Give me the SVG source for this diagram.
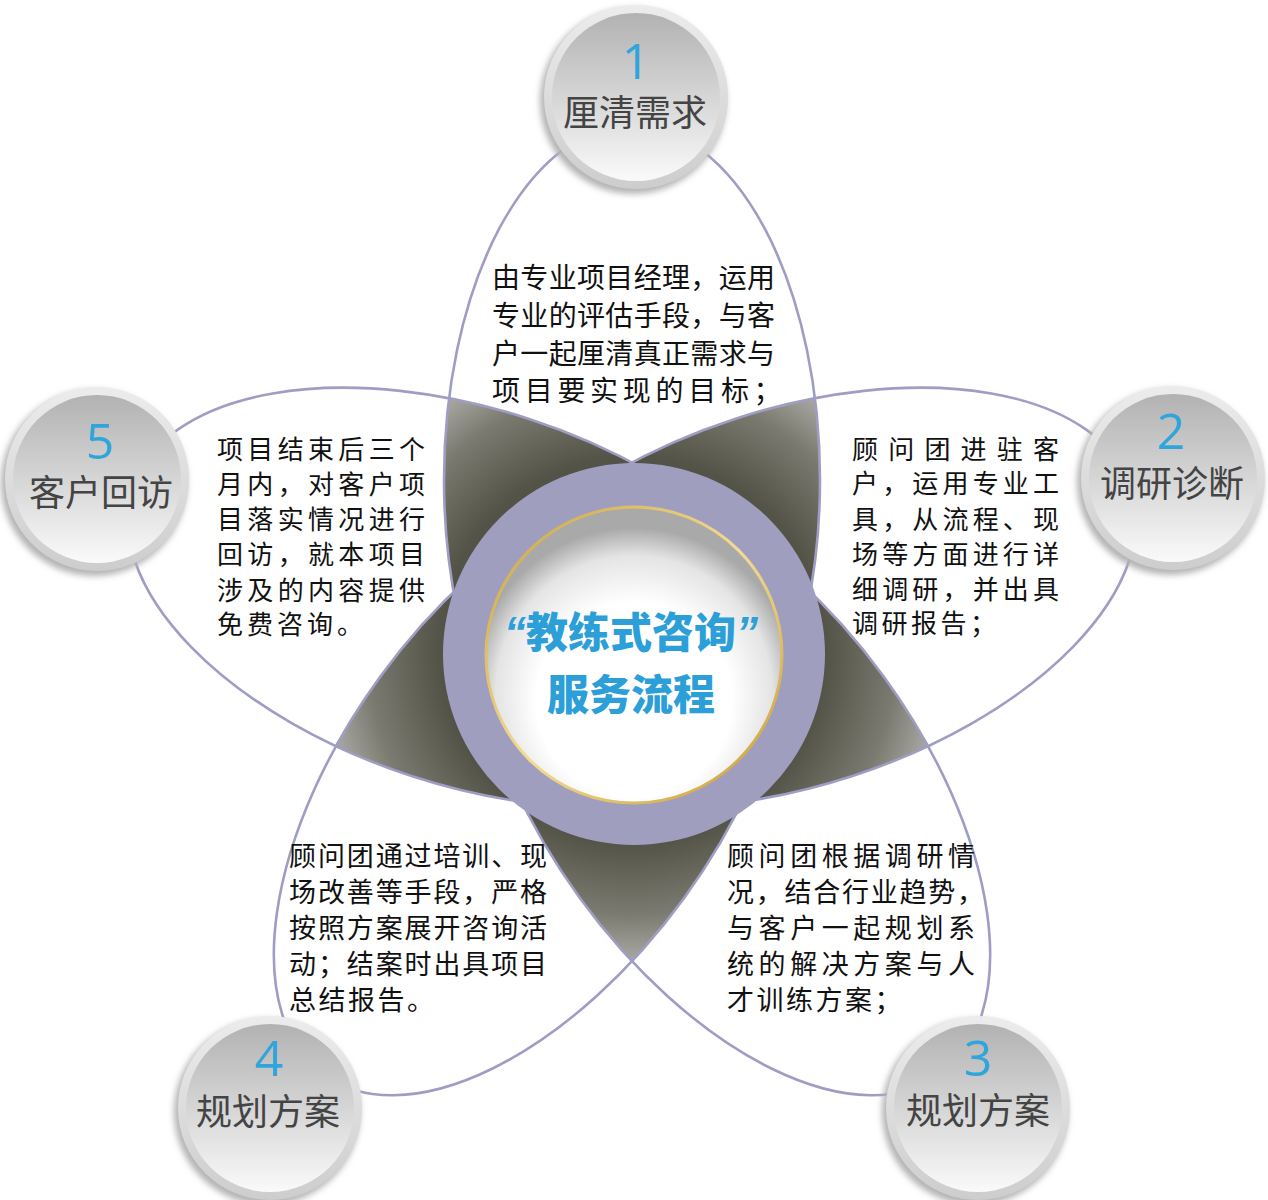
<svg xmlns="http://www.w3.org/2000/svg" width="1268" height="1200" viewBox="0 0 1268 1200">
<defs>
  <style>
    .petal { fill: none; stroke: #9f9dc4; stroke-width: 2.6; }
    .num { font-family: "Open Sans", "Noto Sans", "Liberation Sans", sans-serif; font-weight: 400; font-size: 50px; fill: #2fa5dc; text-anchor: middle; }
    .lab { font-family: "Liberation Sans", "Noto Sans CJK SC", sans-serif; font-weight: 400; font-size: 36px; fill: #444444; text-anchor: middle; }
    .body { font-family: "Noto Sans CJK SC", sans-serif; font-size: 26px; fill: #111111; }
    .body28 { font-size: 28px; }
    .body27 { font-size: 27px; }
    .title { font-family: "Noto Sans CJK SC", sans-serif; font-weight: 900; font-size: 42px; fill: #2c9fd9; text-anchor: middle; }
    .q { font-family: "Liberation Sans", sans-serif; font-weight: 700; font-style: italic; font-size: 44px; }
  </style>
  <radialGradient id="darkGrad" gradientUnits="userSpaceOnUse" cx="632" cy="650" r="322">
    <stop offset="0" stop-color="#3c3c30"/>
    <stop offset="0.6" stop-color="#535347"/>
    <stop offset="0.82" stop-color="#7a7a70"/>
    <stop offset="1" stop-color="#b4b4ae"/>
  </radialGradient>
  <linearGradient id="rim" x1="0" y1="0" x2="0" y2="1">
    <stop offset="0" stop-color="#ececec"/>
    <stop offset="1" stop-color="#cdcdcd"/>
  </linearGradient>
  <linearGradient id="disc" x1="0" y1="0" x2="0" y2="1">
    <stop offset="0" stop-color="#b2b2b2"/>
    <stop offset="0.55" stop-color="#d9d9d9"/>
    <stop offset="1" stop-color="#fafafa"/>
  </linearGradient>
  <radialGradient id="inner" cx="0.5" cy="0.62" r="0.55" fx="0.5" fy="0.7">
    <stop offset="0" stop-color="#ffffff"/>
    <stop offset="0.6" stop-color="#ffffff"/>
    <stop offset="0.85" stop-color="#e4e4e4"/>
    <stop offset="1" stop-color="#a9a9a9"/>
  </radialGradient>
  <linearGradient id="gold" x1="0" y1="0" x2="1" y2="1">
    <stop offset="0" stop-color="#c9a23c"/>
    <stop offset="0.5" stop-color="#f3dc93"/>
    <stop offset="1" stop-color="#c89a30"/>
  </linearGradient>
  <filter id="blur" x="-20%" y="-20%" width="140%" height="140%">
    <feGaussianBlur stdDeviation="3"/>
  </filter>
  <ellipse id="petal" cx="632" cy="480" rx="188" ry="355"/>
  <clipPath id="p1"><use href="#petal"/></clipPath>
  <clipPath id="p2"><use href="#petal" transform="rotate(72 632 650)"/></clipPath>
  <clipPath id="p3"><use href="#petal" transform="rotate(144 632 650)"/></clipPath>
  <clipPath id="p4"><use href="#petal" transform="rotate(216 632 650)"/></clipPath>
  <clipPath id="p5"><use href="#petal" transform="rotate(288 632 650)"/></clipPath>
</defs>

<rect width="1268" height="1200" fill="#ffffff"/>

<g id="petal-overlaps">
  <g clip-path="url(#p1)"><g clip-path="url(#p2)"><circle cx="632" cy="650" r="330" fill="url(#darkGrad)"/></g></g>
  <g clip-path="url(#p2)"><g clip-path="url(#p3)"><circle cx="632" cy="650" r="330" fill="url(#darkGrad)"/></g></g>
  <g clip-path="url(#p3)"><g clip-path="url(#p4)"><circle cx="632" cy="650" r="330" fill="url(#darkGrad)"/></g></g>
  <g clip-path="url(#p4)"><g clip-path="url(#p5)"><circle cx="632" cy="650" r="330" fill="url(#darkGrad)"/></g></g>
  <g clip-path="url(#p5)"><g clip-path="url(#p1)"><circle cx="632" cy="650" r="330" fill="url(#darkGrad)"/></g></g>
</g>

<g id="connectors">
  <use href="#petal" class="petal"/>
  <use href="#petal" class="petal" transform="rotate(72 632 650)"/>
  <use href="#petal" class="petal" transform="rotate(144 632 650)"/>
  <use href="#petal" class="petal" transform="rotate(216 632 650)"/>
  <use href="#petal" class="petal" transform="rotate(288 632 650)"/>
</g>

<g id="center">
  <circle cx="634" cy="654" r="191" fill="#a09ebf"/>
  <circle cx="634" cy="655" r="148" fill="url(#inner)" stroke="url(#gold)" stroke-width="3"/>
  <text class="title" x="631" y="648"><tspan class="q">“</tspan>教练式咨询<tspan class="q">”</tspan></text>
  <text class="title" x="631" y="710">服务流程</text>
</g>

<g id="node1">
  <circle cx="633" cy="101" r="93" fill="#b4b4b4" filter="url(#blur)"/>
  <circle cx="636" cy="97" r="92" fill="url(#rim)"/>
  <circle cx="636" cy="97" r="84" fill="url(#disc)"/>
  <text class="num" x="636" y="79">1</text>
  <text class="lab" x="635" y="126">厘清需求</text>
</g>

<g id="node2">
  <circle cx="1170" cy="482" r="93" fill="#b4b4b4" filter="url(#blur)"/>
  <circle cx="1173" cy="478" r="92" fill="url(#rim)"/>
  <circle cx="1173" cy="478" r="84" fill="url(#disc)"/>
  <text class="num" x="1171" y="449">2</text>
  <text class="lab" x="1172" y="497">调研诊断</text>
</g>

<g id="node3">
  <circle cx="975" cy="1112" r="93" fill="#b4b4b4" filter="url(#blur)"/>
  <circle cx="978" cy="1108" r="92" fill="url(#rim)"/>
  <circle cx="978" cy="1108" r="84" fill="url(#disc)"/>
  <text class="num" x="978" y="1076">3</text>
  <text class="lab" x="978" y="1124">规划方案</text>
</g>

<g id="node4">
  <circle cx="267" cy="1112" r="93" fill="#b4b4b4" filter="url(#blur)"/>
  <circle cx="270" cy="1108" r="92" fill="url(#rim)"/>
  <circle cx="270" cy="1108" r="84" fill="url(#disc)"/>
  <text class="num" x="269" y="1076">4</text>
  <text class="lab" x="268" y="1125">规划方案</text>
</g>

<g id="node5">
  <circle cx="94" cy="483" r="93" fill="#b4b4b4" filter="url(#blur)"/>
  <circle cx="97" cy="479" r="92" fill="url(#rim)"/>
  <circle cx="97" cy="479" r="84" fill="url(#disc)"/>
  <text class="num" x="100" y="459">5</text>
  <text class="lab" x="101" y="506">客户回访</text>
</g>

<g id="desc1" class="body body28">
  <text x="492" y="288" textLength="283" lengthAdjust="spacing">由专业项目经理，运用</text>
  <text x="492" y="326" textLength="283" lengthAdjust="spacing">专业的评估手段，与客</text>
  <text x="492" y="364" textLength="283" lengthAdjust="spacing">户一起厘清真正需求与</text>
  <text x="492" y="401" letter-spacing="4.7">项目要实现的目标；</text>
</g>

<g id="desc2" class="body">
  <text x="852" y="459" textLength="207" lengthAdjust="spacing">顾问团进驻客</text>
  <text x="852" y="493" textLength="207" lengthAdjust="spacing">户，运用专业工</text>
  <text x="852" y="529" textLength="207" lengthAdjust="spacing">具，从流程、现</text>
  <text x="852" y="564" textLength="207" lengthAdjust="spacing">场等方面进行详</text>
  <text x="852" y="599" textLength="207" lengthAdjust="spacing">细调研，并出具</text>
  <text x="852" y="633" letter-spacing="3.5">调研报告；</text>
</g>

<g id="desc5" class="body">
  <text x="217" y="459" textLength="208" lengthAdjust="spacing">项目结束后三个</text>
  <text x="217" y="494" textLength="208" lengthAdjust="spacing">月内，对客户项</text>
  <text x="217" y="529" textLength="208" lengthAdjust="spacing">目落实情况进行</text>
  <text x="217" y="564" textLength="208" lengthAdjust="spacing">回访，就本项目</text>
  <text x="217" y="600" textLength="208" lengthAdjust="spacing">涉及的内容提供</text>
  <text x="217" y="634" letter-spacing="4">免费咨询。</text>
</g>

<g id="desc3" class="body body27">
  <text x="727" y="866" textLength="248" lengthAdjust="spacing">顾问团根据调研情</text>
  <text x="727" y="902" textLength="257" lengthAdjust="spacing">况，结合行业趋势，</text>
  <text x="727" y="938" textLength="248" lengthAdjust="spacing">与客户一起规划系</text>
  <text x="727" y="974" textLength="248" lengthAdjust="spacing">统的解决方案与人</text>
  <text x="727" y="1010" letter-spacing="2.5">才训练方案；</text>
</g>

<g id="desc4" class="body body27">
  <text x="289" y="866" textLength="258" lengthAdjust="spacing">顾问团通过培训、现</text>
  <text x="289" y="902" textLength="258" lengthAdjust="spacing">场改善等手段，严格</text>
  <text x="289" y="938" textLength="258" lengthAdjust="spacing">按照方案展开咨询活</text>
  <text x="289" y="974" textLength="258" lengthAdjust="spacing">动；结案时出具项目</text>
  <text x="289" y="1010" letter-spacing="2.5">总结报告。</text>
</g>
</svg>
